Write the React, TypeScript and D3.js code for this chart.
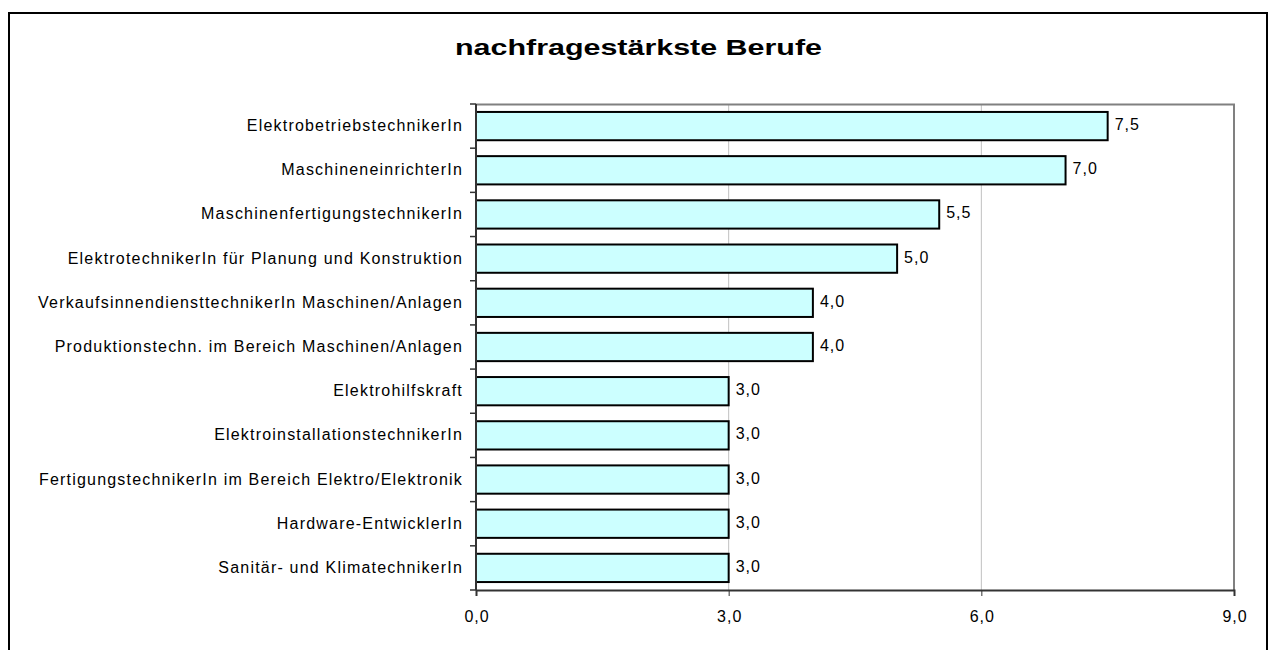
import React, { useEffect, useRef } from 'react';
import * as d3 from 'd3';

// categories, top to bottom
const berufe = [
  'ElektrobetriebstechnikerIn',
  'MaschineneinrichterIn',
  'MaschinenfertigungstechnikerIn',
  'ElektrotechnikerIn für Planung und Konstruktion',
  'VerkaufsinnendiensttechnikerIn Maschinen/Anlagen',
  'Produktionstechn. im Bereich Maschinen/Anlagen',
  'Elektrohilfskraft',
  'ElektroinstallationstechnikerIn',
  'FertigungstechnikerIn im Bereich Elektro/Elektronik',
  'Hardware-EntwicklerIn',
  'Sanitär- und KlimatechnikerIn',
];
const werte = [7.5, 7.0, 5.5, 5.0, 4.0, 4.0, 3.0, 3.0, 3.0, 3.0, 3.0];
const xTicks = [0, 3, 6, 9];
const title = 'nachfragestärkste Berufe';

const W = 1270;
const H = 650;
const margin = { top: 104, right: 36, bottom: 60, left: 476 };
const font = 'Liberation Sans, Arial, sans-serif';
const fmt = (v: number) => v.toFixed(1).replace('.', ',');

export default function App() {
  const ref = useRef<SVGSVGElement>(null);

  useEffect(() => {
    const svg = d3.select(ref.current);
    svg.selectAll('*').remove();

    const width = W - margin.left - margin.right;
    const height = H - margin.top - margin.bottom;

    // outer frame
    svg.append('rect')
      .attr('x', 9).attr('y', 13)
      .attr('width', 1258).attr('height', 650)
      .attr('fill', '#fff').attr('stroke', '#000').attr('stroke-width', 2);

    svg.append('text')
      .attr('x', 638.5).attr('y', 55)
      .attr('text-anchor', 'middle')
      .attr('textLength', 367)
      .attr('lengthAdjust', 'spacingAndGlyphs')
      .style('font-family', font)
      .style('font-size', '22px').style('font-weight', 'bold')
      .text(title);

    const g = svg.append('g').attr('transform', `translate(${margin.left},${margin.top})`);

    const x = d3.scaleLinear().domain([0, 9]).range([0, width]);
    const y = d3.scaleBand().domain(berufe).range([0, height]).paddingInner(0.36).paddingOuter(0.18);

    // gridlines
    g.selectAll('.grid')
      .data(xTicks.filter(t => t > 0 && t < 9))
      .join('line')
      .attr('x1', d => x(d)).attr('x2', d => x(d))
      .attr('y1', 0).attr('y2', height)
      .attr('stroke', '#c0c0c0').attr('stroke-width', 1);

    // plot area border (top/right)
    g.append('path')
      .attr('d', `M0,0.5H${width}V${height}`)
      .attr('fill', 'none').attr('stroke', '#808080').attr('stroke-width', 2);

    // bars
    g.selectAll('.bar')
      .data(werte)
      .join('rect')
      .attr('x', 0)
      .attr('y', (d, i) => y(berufe[i])!)
      .attr('width', d => x(d))
      .attr('height', y.bandwidth())
      .attr('fill', '#ccffff')
      .attr('stroke', '#000').attr('stroke-width', 2);

    // value labels
    g.selectAll('.val')
      .data(werte)
      .join('text')
      .attr('x', d => x(d) + 7)
      .attr('y', (d, i) => y(berufe[i])! + y.bandwidth() / 2 + 4)
      .style('font-family', font)
      .style('font-size', '16px').style('letter-spacing', '1px')
      .text(d => fmt(d));

    // x axis
    const xAxis = g.append('g')
      .attr('transform', `translate(0,${height})`)
      .call(d3.axisBottom(x).tickValues(xTicks).tickFormat(d => fmt(+d)).tickSize(6).tickPadding(15));
    xAxis.select('.domain').attr('stroke', '#333').attr('stroke-width', 2);
    xAxis.selectAll('.tick line').attr('stroke', '#333');
    xAxis.selectAll('text')
      .attr('dx', '0.5')
      .style('font-family', font)
      .style('font-size', '16px').style('letter-spacing', '1px').attr('fill', '#000');

    // y axis: ticks at category boundaries
    const bounds = d3.range(berufe.length + 1).map(i => i * (height / berufe.length));
    g.append('line')
      .attr('x1', 0).attr('x2', 0).attr('y1', 0).attr('y2', height)
      .attr('stroke', '#333').attr('stroke-width', 2);
    g.selectAll('.ytick')
      .data(bounds)
      .join('line')
      .attr('x1', -6).attr('x2', 0)
      .attr('y1', d => d).attr('y2', d => d)
      .attr('stroke', '#333').attr('stroke-width', 1.5);

    g.selectAll('.cat')
      .data(berufe)
      .join('text')
      .attr('x', -13)
      .attr('y', d => y(d)! + y.bandwidth() / 2 + 5)
      .attr('text-anchor', 'end')
      .style('font-family', font)
      .style('font-size', '16px').style('letter-spacing', '1.2px')
      .text(d => d);
  }, []);

  return (
    <svg ref={ref} width={W} height={H}
      style={{ position: 'absolute', left: 0, top: 0, background: '#fff' }} />
  );
}
